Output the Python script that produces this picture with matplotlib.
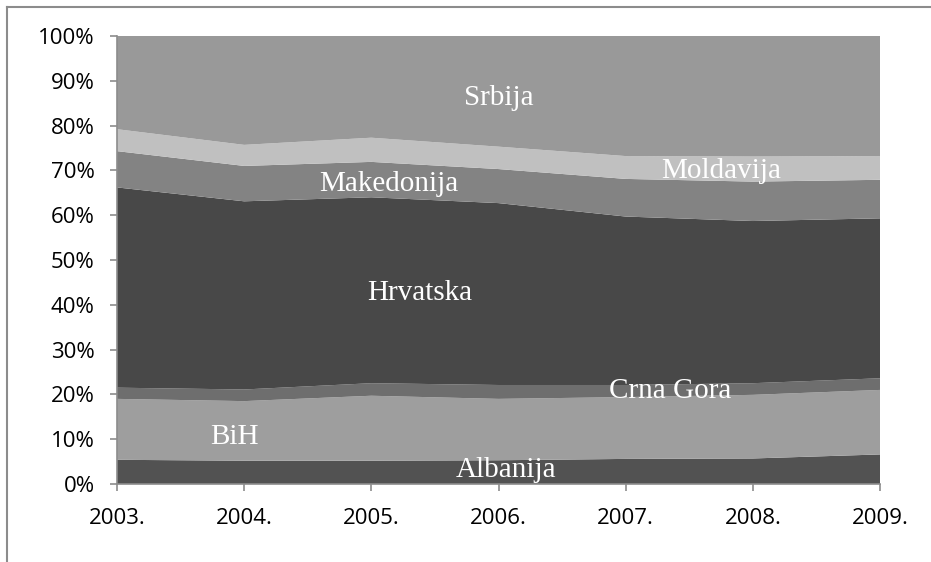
import matplotlib.pyplot as plt
import numpy as np
from matplotlib.lines import Line2D
from matplotlib.ticker import PercentFormatter

# === data (shares in %) ===
godine = ["2003.", "2004.", "2005.", "2006.", "2007.", "2008.", "2009."]
albanija = [5.4, 5.2, 5.2, 5.3, 5.6, 5.7, 6.6]
bih = [13.6, 13.3, 14.5, 13.7, 13.8, 14.2, 14.4]
crna_gora = [2.5, 2.6, 2.8, 3.1, 2.7, 2.6, 2.6]
hrvatska = [44.7, 42.0, 41.5, 40.6, 37.6, 36.2, 35.7]
makedonija = [8.1, 7.9, 7.9, 7.6, 8.4, 8.8, 8.6]
moldavija = [4.9, 4.7, 5.4, 5.0, 5.1, 5.6, 5.3]
srbija = [20.8, 24.3, 22.7, 24.7, 26.8, 26.9, 26.8]

serije = [albanija, bih, crna_gora, hrvatska, makedonija, moldavija, srbija]
nazivi = ["Albanija", "BiH", "Crna Gora", "Hrvatska", "Makedonija", "Moldavija", "Srbija"]
boje = ["#525252", "#9e9e9e", "#6e6e6e", "#484848", "#838383", "#c0c0c0", "#999999"]

# normalizacija na 100%
vals = np.array(serije, dtype=float)
vals = vals / vals.sum(axis=0) * 100
x = np.arange(len(godine))

fig = plt.figure(figsize=(9.31, 5.62), dpi=100)
ax = fig.add_axes([117 / 931, 78 / 562, 763 / 931, 448 / 562])

ax.stackplot(x, vals, colors=boje, linewidth=0)

ax.set_xlim(0, len(godine) - 1)
ax.set_ylim(0, 100)
ax.set_yticks(np.arange(0, 101, 10))
ax.yaxis.set_major_formatter(PercentFormatter(decimals=0))
ax.set_xticks(x)
ax.set_xticklabels(godine)

for s in ["top", "right"]:
    ax.spines[s].set_visible(False)
for s in ["left", "bottom"]:
    ax.spines[s].set_color("#8c8c8c")
    ax.spines[s].set_linewidth(1.2)
ax.tick_params(axis="both", direction="out", length=5, width=1.2, color="#8c8c8c",
               labelsize=16, labelcolor="black")
ax.tick_params(axis="x", pad=12.5)
ax.tick_params(axis="y", pad=11)
for lbl in ax.get_xticklabels() + ax.get_yticklabels():
    lbl.set_family("Open Sans")

# natpisi serija
pozicije = {
    "Srbija": (3.0, 86.1), "Makedonija": (2.14, 66.9), "Moldavija": (4.75, 69.9),
    "Hrvatska": (2.38, 42.7), "Crna Gora": (4.35, 20.7), "BiH": (0.92, 10.6),
    "Albanija": (3.06, 3.2),
}
for naziv, (px, py) in pozicije.items():
    ax.text(px, py, naziv, color="white", fontsize=21, family="Liberation Serif",
            ha="center", va="center")

# okvir grafikona
fig.add_artist(Line2D([7 / 931, 1], [1 - 7 / 562, 1 - 7 / 562], color="#8c8c8c", lw=1.5,
                      transform=fig.transFigure))
fig.add_artist(Line2D([7 / 931, 7 / 931], [0, 1 - 7 / 562], color="#8c8c8c", lw=1.5,
                      transform=fig.transFigure))

fig.savefig("out.png", dpi=100)
